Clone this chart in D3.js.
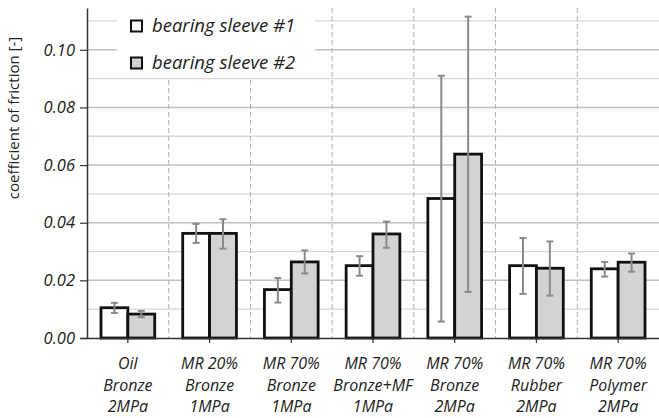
<!DOCTYPE html>
<html>
<head>
<meta charset="utf-8">
<script src="https://cdn.jsdelivr.net/npm/d3@7"></script>
<style>
  body { margin: 0; background: #fff; }
  svg text { font-family: "Open Sans", sans-serif; }
</style>
</head>
<body>
<div id="chart"></div>
<script>
// categories (label lines)
var categories = [
  ["Oil", "Bronze", "2MPa"],
  ["MR 20%", "Bronze", "1MPa"],
  ["MR 70%", "Bronze", "1MPa"],
  ["MR 70%", "Bronze+MF", "1MPa"],
  ["MR 70%", "Bronze", "2MPa"],
  ["MR 70%", "Rubber", "2MPa"],
  ["MR 70%", "Polymer", "2MPa"]
];
var seriesNames = ["bearing sleeve #1", "bearing sleeve #2"];

var sleeve1 = [0.0105, 0.0363, 0.0168, 0.0251, 0.0484, 0.0251, 0.0240];
var sleeve1Lo = [0.0087, 0.0330, 0.0123, 0.0216, 0.0057, 0.0153, 0.0213];
var sleeve1Hi = [0.0122, 0.0396, 0.0208, 0.0284, 0.0910, 0.0347, 0.0264];

var sleeve2 = [0.0083, 0.0363, 0.0264, 0.0361, 0.0638, 0.0242, 0.0263];
var sleeve2Lo = [0.0072, 0.0310, 0.0224, 0.0313, 0.0160, 0.0147, 0.0230];
var sleeve2Hi = [0.0094, 0.0412, 0.0304, 0.0404, 0.1115, 0.0335, 0.0293];

var yTicks = [0.00, 0.02, 0.04, 0.06, 0.08, 0.10];
var yMinor = [0.01, 0.03, 0.05, 0.07, 0.09, 0.11];

var W = 659, H = 418;
var margin = { top: 8, right: 0, bottom: 80, left: 87 };
var width = W - margin.left - margin.right,
    height = H - margin.top - margin.bottom;

var svg = d3.select("#chart").append("svg")
  .attr("width", W).attr("height", H);
var g = svg.append("g")
  .attr("transform", "translate(" + margin.left + "," + margin.top + ")");

var x = d3.scaleBand().domain(d3.range(categories.length)).range([0, width]).paddingInner(0).paddingOuter(0);
var inner = d3.scaleBand().domain([0, 1]).range([14, x.bandwidth() - 14]);
var y = d3.scaleLinear().domain([0, 0.1145]).range([height, 0]);

// gridlines
g.append("g").selectAll("line.minor").data(yMinor).enter().append("line")
  .attr("x1", 0).attr("x2", width)
  .attr("y1", function(d) { return y(d); }).attr("y2", function(d) { return y(d); })
  .attr("stroke", "#d6d6d6").attr("stroke-width", 1.3);
g.append("g").selectAll("line.major").data(yTicks.slice(1)).enter().append("line")
  .attr("x1", 0).attr("x2", width)
  .attr("y1", function(d) { return y(d); }).attr("y2", function(d) { return y(d); })
  .attr("stroke", "#c0c0c0").attr("stroke-width", 1.5);

// dashed category separators
g.append("g").selectAll("line").data(d3.range(1, categories.length)).enter().append("line")
  .attr("x1", function(i) { return x(i); }).attr("x2", function(i) { return x(i); })
  .attr("y1", 0).attr("y2", height)
  .attr("stroke", "#b0b0b0").attr("stroke-width", 1).attr("stroke-dasharray", "5,3");

// legend background
var leg = svg.append("g").attr("transform", "translate(117,8)");
leg.append("rect").attr("x", 0).attr("y", 0).attr("width", 198).attr("height", 70)
  .attr("fill", "#fff");
seriesNames.forEach(function(name, i) {
  var ly = 18 + i * 37;
  leg.append("rect").attr("x", 14).attr("y", ly - 5.5).attr("width", 11).attr("height", 11)
    .attr("fill", i ? "#d3d3d3" : "#fff").attr("stroke", "#111").attr("stroke-width", 2);
  leg.append("text").attr("x", 35).attr("y", ly).attr("dy", "0.35em")
    .attr("font-size", 18.5).attr("font-style", "italic").attr("fill", "#222").text(name);
});

// bars
var series = [
  { v: sleeve1, lo: sleeve1Lo, hi: sleeve1Hi, fill: "#fff" },
  { v: sleeve2, lo: sleeve2Lo, hi: sleeve2Hi, fill: "#d3d3d3" }
];
series.forEach(function(s, si) {
  g.append("g").selectAll("rect").data(s.v).enter().append("rect")
    .attr("x", function(d, i) { return x(i) + inner(si); })
    .attr("y", function(d) { return y(d); })
    .attr("width", inner.bandwidth())
    .attr("height", function(d) { return height - y(d); })
    .attr("fill", s.fill).attr("stroke", "#111").attr("stroke-width", 2.8);
});

// error bars
series.forEach(function(s, si) {
  var eg = g.append("g").attr("stroke", "#8a8a8a").attr("stroke-width", 2);
  s.v.forEach(function(d, i) {
    var cx = x(i) + inner(si) + inner.bandwidth() / 2;
    eg.append("line").attr("x1", cx).attr("x2", cx).attr("y1", y(s.lo[i])).attr("y2", y(s.hi[i]));
    eg.append("line").attr("x1", cx - 3.5).attr("x2", cx + 3.5).attr("y1", y(s.lo[i])).attr("y2", y(s.lo[i]));
    eg.append("line").attr("x1", cx - 3.5).attr("x2", cx + 3.5).attr("y1", y(s.hi[i])).attr("y2", y(s.hi[i]));
  });
});

// y axis
var yAxis = g.append("g")
  .call(d3.axisLeft(y).tickValues(yTicks).tickFormat(d3.format(".2f")).tickSize(7).tickSizeOuter(0));
yAxis.select(".domain").attr("stroke", "#333").attr("stroke-width", 1.5);
yAxis.selectAll(".tick line").attr("stroke", "#333").attr("stroke-width", 1.2);
yAxis.selectAll(".tick text").attr("font-size", 16.5).attr("font-style", "italic")
  .attr("fill", "#222").attr("x", -12).style("font-family", "'Open Sans', sans-serif");

// x axis
var xAxis = g.append("g").attr("transform", "translate(0," + height + ")")
  .call(d3.axisBottom(x).tickSize(5).tickSizeOuter(0).tickFormat(""));
xAxis.select(".domain").attr("stroke", "#333").attr("stroke-width", 1.5).attr("d", "M-7,0.5H" + width);
xAxis.selectAll(".tick line").attr("stroke", "#333").attr("stroke-width", 1.2);
categories.forEach(function(lines, i) {
  var t = g.append("text").attr("text-anchor", "middle")
    .attr("font-size", 16).attr("font-style", "italic").attr("fill", "#222");
  lines.forEach(function(l, k) {
    t.append("tspan").attr("x", x(i) + x.bandwidth() / 2).attr("y", height + 31 + k * 21.5).text(l);
  });
});

// y label
svg.append("text").attr("transform", "translate(19,118) rotate(-90)")
  .attr("text-anchor", "middle").attr("font-size", 15).attr("fill", "#222")
  .text("coefficient of friction [-]");
</script>
</body>
</html>
